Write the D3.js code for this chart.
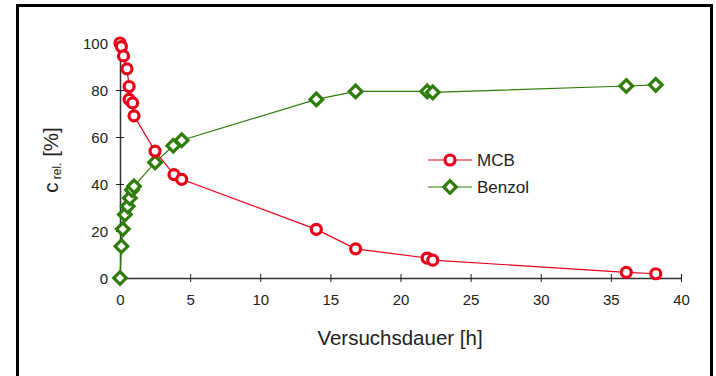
<!DOCTYPE html>
<html>
<head>
<meta charset="utf-8">
<script src="https://cdn.jsdelivr.net/npm/d3@7"></script>
<style>
  body { margin: 0; background: #fff; }
  svg { display: block; font-family: "Liberation Sans", Arial, sans-serif; }
</style>
</head>
<body>
<div id="chart"></div>
<script>
// time [h] and relative concentration [%]
const mcbTime = [0, 0.1, 0.25, 0.5, 0.65, 0.65, 0.9, 1.0, 2.5, 3.85, 4.4, 14, 16.8, 21.9, 22.3, 36.1, 38.2];
const mcbValues = [100, 98.5, 94.5, 89, 81.5, 76, 74.5, 69, 54, 44, 42, 20.7, 12.4, 8.5, 7.6, 2.4, 1.8];
const benzolTime = [0, 0.1, 0.2, 0.35, 0.55, 0.7, 0.85, 1.0, 2.5, 3.8, 4.4, 14, 16.8, 21.9, 22.3, 36.1, 38.2];
const benzolValues = [0, 13.5, 20.8, 27, 30.5, 34, 37.5, 39, 49.2, 56.3, 58.6, 76, 79.4, 79.4, 79, 81.7, 82.2];
const xTicks = [0, 5, 10, 15, 20, 25, 30, 35, 40];
const yTicks = [0, 20, 40, 60, 80, 100];
const seriesNames = ["MCB", "Benzol"];

const W = 716, H = 376;
const red = "#e8001a", green = "#2e7d0a";

const svg = d3.select("#chart").append("svg")
  .attr("width", W).attr("height", H);

// frame
svg.append("rect").attr("x", 17.5).attr("y", 5.5).attr("width", 694).attr("height", 380)
  .attr("fill", "none").attr("stroke", "#000").attr("stroke-width", 3);

const x = d3.scaleLinear().domain([0, 40]).range([120, 681]);
const y = d3.scaleLinear().domain([0, 100]).range([278, 43]);

// axes
const xAxis = svg.append("g").attr("transform", "translate(0,278)")
  .call(d3.axisBottom(x).tickValues(xTicks).tickSize(0).tickPadding(16));
xAxis.selectAll(".tick").append("line").attr("y1", -4).attr("y2", 4).attr("stroke", "#222");
const yAxis = svg.append("g").attr("transform", "translate(120,0)")
  .call(d3.axisLeft(y).tickValues(yTicks).tickSize(0).tickPadding(12));
yAxis.selectAll(".tick").append("line").attr("x1", -4).attr("x2", 4).attr("stroke", "#222");
svg.selectAll(".domain").attr("stroke", "#333").attr("stroke-width", 1.5);
svg.selectAll(".tick text").attr("font-size", 15).attr("fill", "#222")
  .attr("font-family", "Liberation Sans, Arial, sans-serif");
yAxis.selectAll(".tick text").attr("dy", "0.35em");

// axis titles
svg.append("text").attr("x", 400).attr("y", 345).attr("text-anchor", "middle")
  .attr("font-size", 20.5).attr("fill", "#222").text("Versuchsdauer [h]");
const yt = svg.append("text").attr("transform", "translate(58,160) rotate(-90)")
  .attr("text-anchor", "middle").attr("font-size", 20.5).attr("fill", "#222");
yt.append("tspan").text("c");
yt.append("tspan").attr("font-size", 12).attr("dy", 3).text(" rel.");
yt.append("tspan").attr("dy", -3).text(" [%]");

const mcb = mcbTime.map((t, i) => ({ t, v: mcbValues[i] }));
const benzol = benzolTime.map((t, i) => ({ t, v: benzolValues[i] }));

const line = d3.line().x(d => x(d.t)).y(d => y(d.v));

svg.append("path").datum(benzol).attr("d", line)
  .attr("fill", "none").attr("stroke", green).attr("stroke-width", 1.2);
svg.append("path").datum(mcb).attr("d", line)
  .attr("fill", "none").attr("stroke", red).attr("stroke-width", 1.2);

const diamond = "M0,-6.3L6.3,0L0,6.3L-6.3,0Z";

svg.selectAll(".bz").data(benzol).enter().append("path")
  .attr("class", "bz")
  .attr("transform", d => `translate(${x(d.t)},${y(d.v)})`)
  .attr("d", diamond).attr("fill", "#fff").attr("stroke", green).attr("stroke-width", 3.2);

svg.selectAll(".mcb").data(mcb).enter().append("circle")
  .attr("class", "mcb")
  .attr("cx", d => x(d.t)).attr("cy", d => y(d.v)).attr("r", 5)
  .attr("fill", "#fff").attr("stroke", red).attr("stroke-width", 3.2);

// legend
const legend = svg.append("g");
seriesNames.forEach((name, i) => {
  const ly = 160 + i * 27;
  const col = i === 0 ? red : green;
  legend.append("line").attr("x1", 428).attr("x2", 472).attr("y1", ly).attr("y2", ly)
    .attr("stroke", col).attr("stroke-width", 1.2);
  if (i === 0) {
    legend.append("circle").attr("cx", 450).attr("cy", ly).attr("r", 5)
      .attr("fill", "#fff").attr("stroke", col).attr("stroke-width", 3.2);
  } else {
    legend.append("path").attr("transform", `translate(450,${ly})`).attr("d", diamond)
      .attr("fill", "#fff").attr("stroke", col).attr("stroke-width", 3.2);
  }
  legend.append("text").attr("x", 477).attr("y", ly).attr("dy", "0.36em")
    .attr("font-size", 17).attr("fill", "#222").text(name);
});
</script>
</body>
</html>
